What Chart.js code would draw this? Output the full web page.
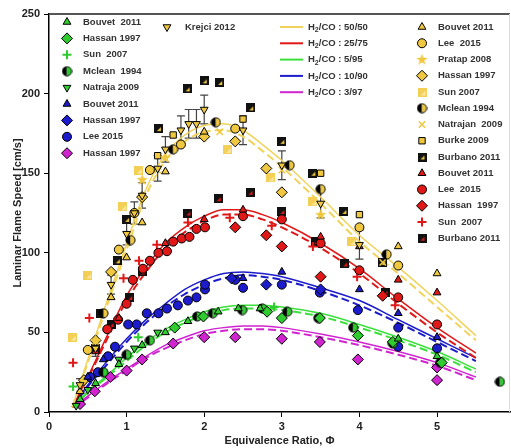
<!DOCTYPE html>
<html>
<head>
<meta charset="utf-8">
<script src="https://cdn.jsdelivr.net/npm/chart.js@4.4.1/dist/chart.umd.min.js"></script>
<style>
  body { margin: 0; background: #fff; overflow: hidden; }
  canvas { display: block; }
</style>
</head>
<body>
<canvas id="chart" width="511" height="448"></canvas>
<script>
// model curves (solid / dashed) for each H2/CO mixture
const phiCurve = [0.3, 0.5, 0.75, 1, 1.25, 1.5, 1.75, 2, 2.25, 2.5, 2.75, 3, 3.5, 4, 4.5, 5, 5.5];
const yellowSolid = [3, 33, 70, 106, 140, 162, 174, 180, 181, 177, 168, 158, 135, 111, 91, 70, 48];
const yellowDash = [3, 31, 67, 102, 136, 158, 170, 176, 177, 173, 164, 154, 131, 107, 87, 66, 45];
const redSolid = [3, 22, 48, 73, 91, 106, 116, 123, 127, 127, 124, 119, 106, 90, 71, 53, 37];
const redDash = [3, 21, 46, 70, 88, 103, 113, 120, 124, 124, 121, 116, 103, 87, 68, 50, 34];
const blueSolid = [3, 17, 32, 46, 58, 68, 77, 83, 87, 88, 87, 85, 78, 70, 58, 46, 34];
const blueDash = [3, 16, 30, 44, 56, 66, 74, 80, 84, 86, 85, 83, 76, 67, 56, 44, 32];
const greenSolid = [3, 13, 23, 34, 44, 52, 58, 63, 66, 67, 67, 66, 62, 55, 47, 38, 27];
const greenDash = [3, 12, 22, 32, 42, 50, 56, 61, 64, 65, 65, 64, 60, 53, 45, 36, 25];
const magentaSolid = [3, 10, 19, 27, 35, 42, 47, 51, 53, 54, 54, 53, 49, 44, 38, 31, 22];
const magentaDash = [3, 9, 18, 26, 34, 40, 45, 49, 51, 52, 52, 51, 47, 42, 36, 29, 20];

// measurements, H2/CO 5/95 (green)
const gBouvetPhi = [0.4, 0.6, 0.9, 1.2, 1.5, 1.79, 2.18, 2.44, 2.72, 4.5, 5.0];
const gBouvetSL = [8, 18, 30, 42, 50, 57, 63, 65, 65, 46, 35];
const gHassanPhi = [1.62, 1.99, 2.81, 3.0, 3.49, 3.98, 4.43, 5.06];
const gHassanSL = [53, 60, 63, 59, 59, 48, 44, 31];
const gSunPhi = [0.31, 1.15, 2.9];
const gSunSL = [16, 47, 66];
const gMcleanPhi = [0.7, 1.0, 1.3, 1.91, 2.11, 2.49, 2.75, 3.07, 3.47, 3.92, 4.43, 5.04, 5.81];
const gMcleanSL = [25, 36, 45, 60, 62, 64, 65, 63, 59, 53, 43, 31, 19];
const gNatrajaPhi = [0.35, 0.5, 0.7, 0.9, 1.1, 1.4];
const gNatrajaSL = [4, 14, 25, 33, 40, 50];

// H2/CO 10/90 (blue)
const bBouvetPhi = [0.5, 0.7, 2.5, 3.0, 4.0, 4.5, 5.0];
const bBouvetSL = [22, 33, 84, 88, 77, 62, 47];
const bHassanPhi = [2.35, 2.8, 3.5];
const bHassanSL = [84, 80, 77];
const bLeePhi = [0.53, 0.63, 0.76, 0.85, 1.02, 1.13, 1.26, 1.41, 1.52, 1.66, 1.79, 1.9, 2.01, 2.01, 2.4, 2.5, 3.0, 3.49, 3.98, 4.5, 4.5, 5.0];
const bLeeSL = [22, 25, 35, 41, 55, 55, 62, 62, 65, 67, 70, 72, 77, 80, 83, 78, 80, 75, 64, 53, 41, 40];

// H2/CO 3/97 (magenta)
const mHassanPhi = [0.4, 0.59, 0.79, 1.0, 1.2, 1.6, 2.0, 2.4, 3.0, 3.49, 3.98, 5.0, 5.0];
const mHassanSL = [5, 13, 22, 26, 33, 43, 47, 47, 46, 44, 33, 28, 20];

// H2/CO 50/50 (yellow)
const krejciPhi = [0.4, 0.6, 0.8, 1.0, 1.1, 1.2, 1.4, 1.5, 1.7, 1.8, 1.9, 2.0, 2.5, 3.0, 3.5, 4.0];
const krejciSL = [17, 40, 80, 112, 125, 136, 153, 165, 177, 181, 181, 190, 177, 155, 131, 105];
const krejciErr = [4, 5, 6, 7, 7, 8, 8, 8, 9, 9, 9, 9, 9, 9, 9, 9];
const yBouvetPhi = [0.4, 0.8, 1.0, 1.2, 1.5, 2.0, 4.5, 5.0];
const yBouvetSL = [13, 72, 97, 119, 151, 176, 104, 87];
const yLeePhi = [0.5, 0.9, 1.1, 1.3, 1.7, 2.4, 4.0, 4.5];
const yLeeSL = [39, 102, 125, 152, 168, 178, 116, 92];
const yPratapPhi = [0.6, 1.2, 1.5, 3.5];
const yPratapSL = [45, 146, 160, 124];
const yHassanPhi = [0.45, 0.6, 0.8, 1.2, 2.0, 2.4, 2.8, 3.0];
const yHassanSL = [20, 45, 88, 135, 173, 170, 153, 138];
const ySunPhi = [0.3, 0.5, 0.95, 1.15, 2.3, 2.85, 3.4, 3.9];
const ySunSL = [47, 86, 129, 152, 165, 147, 132, 107];
const yMcleanPhi = [0.7, 1.05, 1.6, 2.15, 3.1, 3.5, 4.35];
const yMcleanSL = [62, 108, 165, 182, 155, 140, 99];
const yNatrajanPhi = [1.4, 2.2, 3.0, 4.3];
const yNatrajanSL = [152, 176, 152, 94];
const yBurkePhi = [1.4, 1.6, 2.5, 3.5, 4.0];
const yBurkeSL = [161, 174, 184, 150, 124];
const yBurbanoPhi = [0.66, 0.88, 1.0, 1.41, 1.78, 2.0, 2.2, 2.6, 3.0, 3.4, 3.8, 4.3];
const yBurbanoSL = [62, 95, 121, 178, 203, 208, 207, 191, 170, 150, 126, 94];

// H2/CO 25/75 (red)
const rBouvetPhi = [0.6, 0.9, 1.5, 2.0, 2.5, 3.5, 4.0, 4.5, 5.0];
const rBouvetSL = [38, 59, 106, 121, 127, 110, 104, 83, 75];
const rLeePhi = [0.75, 0.89, 1.0, 1.08, 1.21, 1.3, 1.41, 1.52, 1.6, 1.71, 1.81, 1.9, 2.01, 2.5, 3.0, 3.5, 4.0, 4.5, 5.0];
const rLeeSL = [52, 58, 68, 83, 90, 95, 100, 101, 107, 109, 110, 115, 116, 123, 121, 106, 89, 72, 55];
const rHassanPhi = [2.4, 2.8, 3.0, 3.5, 4.3];
const rHassanSL = [116, 111, 104, 85, 73];
const rSunPhi = [0.31, 0.52, 0.96, 1.16, 1.39, 1.79, 2.33, 2.87, 3.4, 3.97, 4.46];
const rSunSL = [31, 59, 84, 95, 105, 119, 122, 117, 104, 85, 67];
const rBurbanoPhi = [0.6, 0.8, 1.04, 1.2, 1.79, 2.18, 2.59, 3.0, 3.43, 3.81, 4.33];
const rBurbanoSL = [40, 55, 72, 88, 125, 134, 138, 126, 107, 93, 75];

const mixLabels = ['50/50', '25/75', '5/95', '10/90', '3/97'];

const YEL = '#f0c840', YEL_LINE = '#f1d35c';
const RED = '#e01818', GRN = '#2fcc2f', GRN_LINE = '#3ce03c';
const BLU = '#1c1ccc', MAG = '#d024d0';

const pts = (xs, ys) => xs.map((x, i) => ({ x, y: ys[i] }));

// custom marker images
function halfCircle(color) {
  const c = document.createElement('canvas');
  c.width = 11; c.height = 11;
  const g = c.getContext('2d');
  g.beginPath(); g.arc(5.5, 5.5, 4.6, Math.PI / 2, Math.PI * 1.5); g.fillStyle = '#000'; g.fill();
  g.beginPath(); g.arc(5.5, 5.5, 4.6, -Math.PI / 2, Math.PI / 2); g.fillStyle = color; g.fill();
  g.beginPath(); g.arc(5.5, 5.5, 4.6, 0, Math.PI * 2); g.strokeStyle = '#000'; g.lineWidth = 1; g.stroke();
  return c;
}
function burbanoSquare(color) {
  const c = document.createElement('canvas');
  c.width = 9; c.height = 9;
  const g = c.getContext('2d');
  g.fillStyle = '#111'; g.fillRect(0, 0, 9, 9);
  g.fillStyle = color;
  g.beginPath(); g.moveTo(3, 7); g.lineTo(7, 7); g.lineTo(7, 3); g.closePath(); g.fill();
  return c;
}
function paleSquare() {
  const c = document.createElement('canvas');
  c.width = 9; c.height = 9;
  const g = c.getContext('2d');
  g.fillStyle = '#f3cf55'; g.fillRect(0, 0, 9, 9);
  g.fillStyle = '#f9e6a0';
  g.beginPath(); g.moveTo(3, 8); g.lineTo(8, 8); g.lineTo(8, 3); g.closePath(); g.fill();
  return c;
}
function star(color) {
  const c = document.createElement('canvas');
  c.width = 13; c.height = 13;
  const g = c.getContext('2d');
  g.beginPath();
  for (let i = 0; i < 10; i++) {
    const r = i % 2 ? 2.5 : 6;
    const a = -Math.PI / 2 + i * Math.PI / 5;
    g.lineTo(6.5 + r * Math.cos(a), 6.8 + r * Math.sin(a));
  }
  g.closePath(); g.fillStyle = color; g.fill();
  return c;
}

function marker(label, xs, ys, style, fill, extra = {}) {
  return Object.assign({
    label, data: pts(xs, ys), pointStyle: style, backgroundColor: fill,
    borderColor: '#000', borderWidth: 1, pointRadius: 4.5, pointHoverRadius: 4.5,
  }, extra);
}
function curve(label, ys, color, dashed) {
  return {
    label, data: pts(phiCurve, ys), showLine: true, pointRadius: 0, borderColor: color,
    borderWidth: dashed ? 2 : 1.5, borderDash: dashed ? [8, 4] : [], cubicInterpolationMode: 'monotone',
  };
}

// legend column 1 (green / blue / magenta)
const col1 = [
  marker('Bouvet  2011', gBouvetPhi, gBouvetSL, 'triangle', GRN),
  marker('Hassan 1997', gHassanPhi, gHassanSL, 'rectRot', GRN, { pointRadius: 5.5 }),
  marker('Sun  2007', gSunPhi, gSunSL, 'cross', GRN, { borderColor: GRN, borderWidth: 2 }),
  marker('Mclean  1994', gMcleanPhi, gMcleanSL, halfCircle(GRN), GRN),
  marker('Natraja 2009', gNatrajaPhi, gNatrajaSL, 'triangle', GRN, { rotation: 180 }),
  marker('Bouvet 2011', bBouvetPhi, bBouvetSL, 'triangle', BLU),
  marker('Hassan 1997', bHassanPhi, bHassanSL, 'rectRot', BLU, { pointRadius: 5.5 }),
  marker('Lee 2015', bLeePhi, bLeeSL, 'circle', BLU),
  marker('Hassan 1997', mHassanPhi, mHassanSL, 'rectRot', MAG, { pointRadius: 5.5 }),
];
const krejci = marker('Krejci 2012', krejciPhi, krejciSL, 'triangle', YEL, { rotation: 180 });
// legend column 3 (yellow / red)
const col3 = [
  marker('Bouvet 2011', yBouvetPhi, yBouvetSL, 'triangle', YEL),
  marker('Lee  2015', yLeePhi, yLeeSL, 'circle', YEL),
  marker('Pratap 2008', yPratapPhi, yPratapSL, star(YEL), YEL),
  marker('Hassan 1997', yHassanPhi, yHassanSL, 'rectRot', YEL, { pointRadius: 5.5 }),
  marker('Sun 2007', ySunPhi, ySunSL, paleSquare(), YEL),
  marker('Mclean 1994', yMcleanPhi, yMcleanSL, halfCircle(YEL), YEL),
  marker('Natrajan  2009', yNatrajanPhi, yNatrajanSL, 'crossRot', YEL, { borderColor: YEL, borderWidth: 1.5 }),
  marker('Burke 2009', yBurkePhi, yBurkeSL, 'rect', YEL),
  marker('Burbano 2011', yBurbanoPhi, yBurbanoSL, burbanoSquare(YEL), YEL),
  marker('Bouvet 2011', rBouvetPhi, rBouvetSL, 'triangle', RED),
  marker('Lee  2015', rLeePhi, rLeeSL, 'circle', RED),
  marker('Hassan  1997', rHassanPhi, rHassanSL, 'rectRot', RED, { pointRadius: 5.5 }),
  marker('Sun  2007', rSunPhi, rSunSL, 'cross', RED, { borderColor: RED, borderWidth: 2 }),
  marker('Burbano 2011', rBurbanoPhi, rBurbanoSL, burbanoSquare(RED), RED),
];
const curveColors = [YEL_LINE, RED, GRN_LINE, BLU, MAG];
const curves = [
  curve('50/50', yellowSolid, YEL_LINE, false), curve('50/50 dash', yellowDash, YEL_LINE, true),
  curve('25/75', redSolid, RED, false), curve('25/75 dash', redDash, RED, true),
  curve('5/95', greenSolid, GRN_LINE, false), curve('5/95 dash', greenDash, GRN_LINE, true),
  curve('10/90', blueSolid, BLU, false), curve('10/90 dash', blueDash, BLU, true),
  curve('3/97', magentaSolid, MAG, false), curve('3/97 dash', magentaDash, MAG, true),
];

const FONT = '"Liberation Sans", Arial, sans-serif';

const errorBars = {
  id: 'errorBars',
  beforeDatasetsDraw(chart) {
    const { ctx, scales: { x, y } } = chart;
    ctx.save();
    ctx.strokeStyle = '#444';
    ctx.lineWidth = 1.2;
    krejciPhi.forEach((p, i) => {
      const px = x.getPixelForValue(p);
      const top = y.getPixelForValue(krejciSL[i] + krejciErr[i]);
      const bot = y.getPixelForValue(krejciSL[i] - krejciErr[i]);
      ctx.beginPath();
      ctx.moveTo(px, top); ctx.lineTo(px, bot);
      ctx.moveTo(px - 4, top); ctx.lineTo(px + 4, top);
      ctx.moveTo(px - 4, bot); ctx.lineTo(px + 4, bot);
      ctx.stroke();
    });
    ctx.restore();
  },
};

function drawSym(ctx, ds, x, y) {
  ctx.fillStyle = ds.backgroundColor;
  ctx.strokeStyle = ds.borderColor;
  ctx.lineWidth = ds.borderWidth;
  Chart.helpers.drawPoint(ctx, {
    pointStyle: ds.pointStyle, radius: ds.pointRadius, rotation: ds.rotation || 0, borderWidth: ds.borderWidth,
  }, x, y);
}

const frameAndLegend = {
  id: 'frameAndLegend',
  afterDraw(chart) {
    const { ctx, chartArea: a } = chart;
    ctx.save();
    ctx.strokeStyle = '#555';
    ctx.lineWidth = 2;
    ctx.beginPath(); ctx.moveTo(a.left, a.top); ctx.lineTo(a.right, a.top); ctx.stroke();
    ctx.strokeStyle = '#ddd';
    ctx.lineWidth = 1;
    ctx.beginPath(); ctx.moveTo(a.right - 0.5, a.top); ctx.lineTo(a.right - 0.5, a.bottom); ctx.stroke();

    ctx.font = 'bold 9.5px ' + FONT;
    ctx.textBaseline = 'middle';
    col1.forEach((ds, i) => {
      const yy = 22 + i * 16.4;
      drawSym(ctx, ds, 67, yy);
      ctx.fillStyle = '#333';
      ctx.fillText(ds.label, 83, yy);
    });
    drawSym(ctx, krejci, 167, 27);
    ctx.fillStyle = '#333';
    ctx.fillText(krejci.label, 185, 27);
    col3.forEach((ds, i) => {
      const yy = 27 + i * 16.25;
      drawSym(ctx, ds, 422, yy);
      ctx.fillStyle = '#333';
      ctx.fillText(ds.label, 438, yy);
    });
    mixLabels.forEach((m, i) => {
      const yy = 27 + i * 16.3;
      ctx.strokeStyle = curveColors[i];
      ctx.lineWidth = 2;
      ctx.beginPath(); ctx.moveTo(280, yy); ctx.lineTo(303, yy); ctx.stroke();
      ctx.fillStyle = '#333';
      ctx.font = 'bold 9.5px ' + FONT;
      ctx.fillText('H', 308, yy);
      let xx = 308 + ctx.measureText('H').width;
      ctx.font = 'bold 7px ' + FONT;
      ctx.fillText('2', xx, yy + 3);
      xx += ctx.measureText('2').width;
      ctx.font = 'bold 9.5px ' + FONT;
      ctx.fillText('/CO : ' + m, xx, yy);
    });
    ctx.restore();
  },
};

new Chart(document.getElementById('chart'), {
  type: 'scatter',
  data: { datasets: [krejci, ...col1, ...col3, ...curves] },
  options: {
    responsive: false,
    animation: false,
    layout: { autoPadding: false, padding: { top: 14, right: 1, left: 0, bottom: 0 } },
    plugins: { legend: { display: false }, tooltip: { enabled: false } },
    scales: {
      x: {
        type: 'linear', min: 0, max: 5.94,
        afterFit: (s) => { s.height = 36; s.paddingRight = 0; s.paddingLeft = 0; },
        border: { display: true, color: '#000', width: 1.5 },
        grid: { display: true, drawOnChartArea: false, drawTicks: true, tickLength: 5, color: '#000' },
        ticks: {
          stepSize: 1, includeBounds: false, padding: 3, color: '#222',
          font: { family: FONT, size: 11, weight: 'bold' },
        },
        title: {
          display: true, text: 'Equivalence Ratio, Φ', color: '#222', padding: { top: 0, bottom: 0 },
          font: { family: FONT, size: 11, weight: 'bold' },
        },
      },
      y: {
        min: 0, max: 250,
        afterFit: (s) => { s.width = 49; s.paddingTop = 0; s.paddingBottom = 0; },
        border: { display: true, color: '#000', width: 1.5 },
        grid: { display: true, drawOnChartArea: false, drawTicks: true, tickLength: 5, color: '#000' },
        ticks: {
          stepSize: 50, padding: 4, color: '#222',
          font: { family: FONT, size: 11, weight: 'bold' },
        },
        title: {
          display: true, text: 'Laminar Flame Speed [cm/s]', color: '#222', padding: { top: 11, bottom: 0 },
          font: { family: FONT, size: 11, weight: 'bold' },
        },
      },
    },
  },
  plugins: [errorBars, frameAndLegend],
});
</script>
</body>
</html>
